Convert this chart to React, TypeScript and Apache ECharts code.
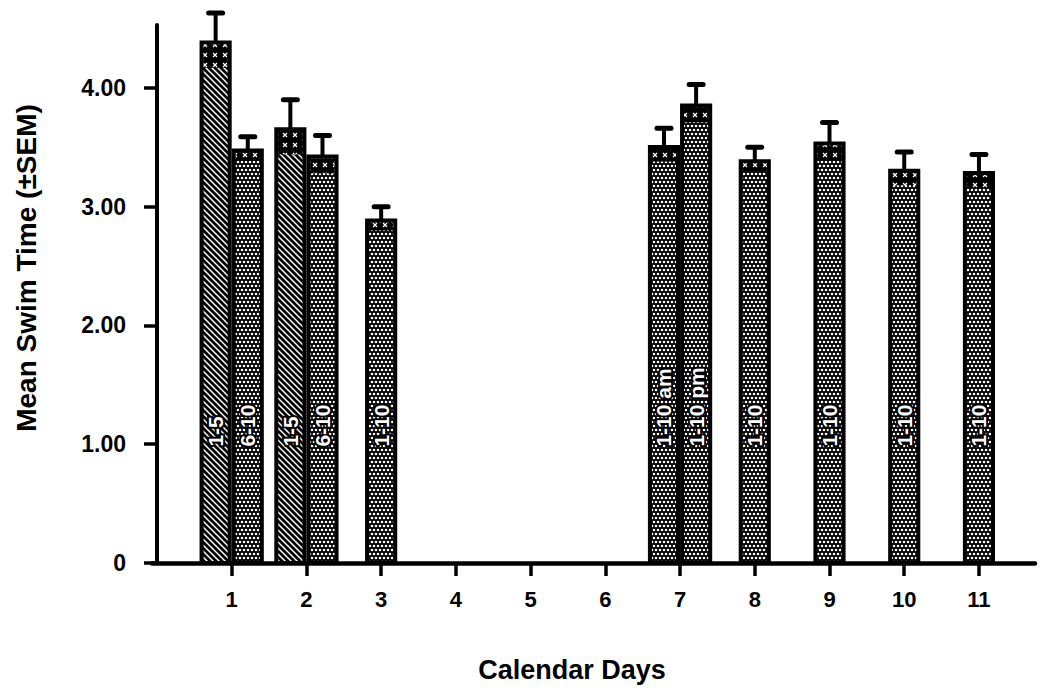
import React, { useEffect, useRef } from "react";
import * as echarts from "echarts";

// ---- data ----
const dayTicks = [1, 2, 3, 4, 5, 6, 7, 8, 9, 10, 11];
const yTicks = [0, 1, 2, 3, 4];
const barDays = [1, 1, 2, 2, 3, 7, 7, 8, 9, 10, 11];
const barSlots = [-1, 1, -1, 1, 0, -1, 1, 0, 0, 0, 0];
const barMeans = [4.4, 3.49, 3.67, 3.44, 2.9, 3.52, 3.87, 3.4, 3.55, 3.32, 3.3];
const barSems = [0.23, 0.1, 0.23, 0.16, 0.1, 0.14, 0.16, 0.1, 0.16, 0.14, 0.14];
const barTrials = ["1-5", "6-10", "1-5", "6-10", "1-10", "1-10 am", "1-10 pm", "1-10", "1-10", "1-10", "1-10"];
const barPatterns = ["hatch", "dots", "hatch", "dots", "dots", "dots", "dots", "dots", "dots", "dots", "dots"];

const FONT = '"Liberation Sans", Arial, Helvetica, sans-serif';
const BAR_W = 0.43;
const LABEL_AT = 0.98;

function makeHatch() {
  const c = document.createElement("canvas");
  c.width = 6;
  c.height = 6;
  const g = c.getContext("2d")!;
  g.fillStyle = "#000";
  g.fillRect(0, 0, 6, 6);
  g.strokeStyle = "#fff";
  g.lineWidth = 1.5;
  g.beginPath();
  g.moveTo(-1, -1);
  g.lineTo(7, 7);
  g.moveTo(5, -1);
  g.lineTo(7, 1);
  g.moveTo(-1, 5);
  g.lineTo(1, 7);
  g.stroke();
  return c;
}

function makeDots() {
  const c = document.createElement("canvas");
  c.width = 8;
  c.height = 8;
  const g = c.getContext("2d")!;
  g.fillStyle = "#000";
  g.fillRect(0, 0, 8, 8);
  g.fillStyle = "#fff";
  const pts = [
    [2, 2], [6, 2], [0, 6], [4, 6], [8, 6],
  ];
  for (const [x, y] of pts) {
    g.beginPath();
    g.arc(x, y, 1.3, 0, Math.PI * 2);
    g.fill();
  }
  return c;
}

function makeCross() {
  const c = document.createElement("canvas");
  c.width = 10;
  c.height = 10;
  const g = c.getContext("2d")!;
  g.fillStyle = "#000";
  g.fillRect(0, 0, 10, 10);
  g.strokeStyle = "#fff";
  g.lineWidth = 1.3;
  g.beginPath();
  g.moveTo(3, 3);
  g.lineTo(7, 7);
  g.moveTo(7, 3);
  g.lineTo(3, 7);
  g.stroke();
  return c;
}

export default function App() {
  const ref = useRef<HTMLDivElement>(null);

  useEffect(() => {
    if (!ref.current) return;
    const chart = echarts.init(ref.current, undefined, { renderer: "svg" });
    const pats: Record<string, any> = {
      hatch: { image: makeHatch(), repeat: "repeat" },
      dots: { image: makeDots(), repeat: "repeat" },
    };
    const cross = { image: makeCross(), repeat: "repeat" };

    const barData = barDays.map((d, i) => [d, barMeans[i], barSems[i], barSlots[i]]);

    const barX = (api: any, day: number, slot: number) => {
      const base = api.coord([day, 0]);
      const w = api.size([BAR_W, 0])[0];
      const x0 = slot < 0 ? base[0] - w : slot > 0 ? base[0] : base[0] - w / 2;
      return { x0, w, base };
    };

    const option: any = {
      animation: false,
      backgroundColor: "#fff",
      grid: { left: 152, right: 7, top: 25, bottom: 127 },
      xAxis: {
        type: "value",
        min: -0.0665,
        max: 11.75,
        axisLine: { show: true, onZero: false, lineStyle: { color: "#000", width: 4.5 } },
        axisTick: { show: true, customValues: dayTicks, length: 13, lineStyle: { color: "#000", width: 3.5 } },
        axisLabel: {
          customValues: dayTicks,
          color: "#000",
          fontSize: 22,
          fontWeight: "bold",
          fontFamily: FONT,
          margin: 25,
        },
        splitLine: { show: false },
      },
      yAxis: {
        type: "value",
        min: 0,
        max: 4.53,
        axisLine: { show: true, lineStyle: { color: "#000", width: 4 } },
        axisTick: { show: true, customValues: yTicks, length: 13, lineStyle: { color: "#000", width: 3.5 } },
        axisLabel: {
          customValues: yTicks,
          formatter: (v: number) => (v === 0 ? "0" : v.toFixed(2)),
          color: "#000",
          fontSize: 23,
          fontWeight: "bold",
          fontFamily: FONT,
          margin: 26,
        },
        splitLine: { show: false },
      },
      series: [
        {
          type: "custom",
          name: "bars",
          data: barData,
          encode: { x: 0, y: 1 },
          z: 2,
          renderItem: (params: any, api: any) => {
            const i = params.dataIndex;
            const day = api.value(0);
            const mean = api.value(1);
            const sem = api.value(2);
            const slot = api.value(3);
            const { x0, w, base } = barX(api, day, slot);
            const top = api.coord([day, mean])[1];
            const low = api.coord([day, mean - sem])[1];
            const labY = api.coord([day, LABEL_AT])[1];
            const lw = 4;
            return {
              type: "group",
              children: [
                {
                  type: "rect",
                  shape: { x: x0 + lw / 2, y: top + lw / 2, width: w - lw, height: base[1] - top - lw / 2 },
                  style: { fill: pats[barPatterns[i]], stroke: "#000", lineWidth: lw },
                },
                {
                  type: "rect",
                  shape: { x: x0 + lw, y: top + lw, width: w - 2 * lw, height: Math.max(0, low - top - lw) },
                  style: { fill: cross },
                },
                {
                  type: "text",
                  x: x0 + w / 2,
                  y: labY,
                  rotation: Math.PI / 2,
                  style: {
                    text: barTrials[i],
                    fill: "#fff",
                    stroke: "#000",
                    lineWidth: 4,
                    font: `bold 21px ${FONT}`,
                    align: "left",
                    verticalAlign: "middle",
                  },
                },
              ],
            };
          },
        },
        {
          type: "custom",
          name: "sem",
          data: barData,
          encode: { x: 0, y: 1 },
          z: 3,
          renderItem: (params: any, api: any) => {
            const day = api.value(0);
            const mean = api.value(1);
            const sem = api.value(2);
            const slot = api.value(3);
            const { x0, w } = barX(api, day, slot);
            const xc = x0 + w / 2;
            const top = api.coord([day, mean])[1];
            const capY = api.coord([day, mean + sem])[1];
            return {
              type: "group",
              children: [
                {
                  type: "line",
                  shape: { x1: xc, y1: top + 2, x2: xc, y2: capY },
                  style: { stroke: "#000", lineWidth: 4 },
                },
                {
                  type: "line",
                  shape: { x1: xc - 7, y1: capY, x2: xc + 7, y2: capY },
                  style: { stroke: "#000", lineWidth: 5, lineCap: "round" },
                },
              ],
            };
          },
        },
      ],
      graphic: [
        {
          type: "text",
          x: 26,
          y: 268,
          rotation: Math.PI / 2,
          style: {
            text: "Mean Swim Time (±SEM)",
            fill: "#000",
            font: `bold 28px ${FONT}`,
            align: "center",
            verticalAlign: "middle",
          },
        },
        {
          type: "text",
          x: 572,
          y: 670,
          style: {
            text: "Calendar Days",
            fill: "#000",
            font: `bold 27px ${FONT}`,
            align: "center",
            verticalAlign: "middle",
          },
        },
      ],
    };
    chart.setOption(option);
    return () => chart.dispose();
  }, []);

  return (
    <div
      ref={ref}
      style={{ position: "absolute", left: 0, top: 0, width: 1042, height: 690, background: "#fff" }}
    />
  );
}
